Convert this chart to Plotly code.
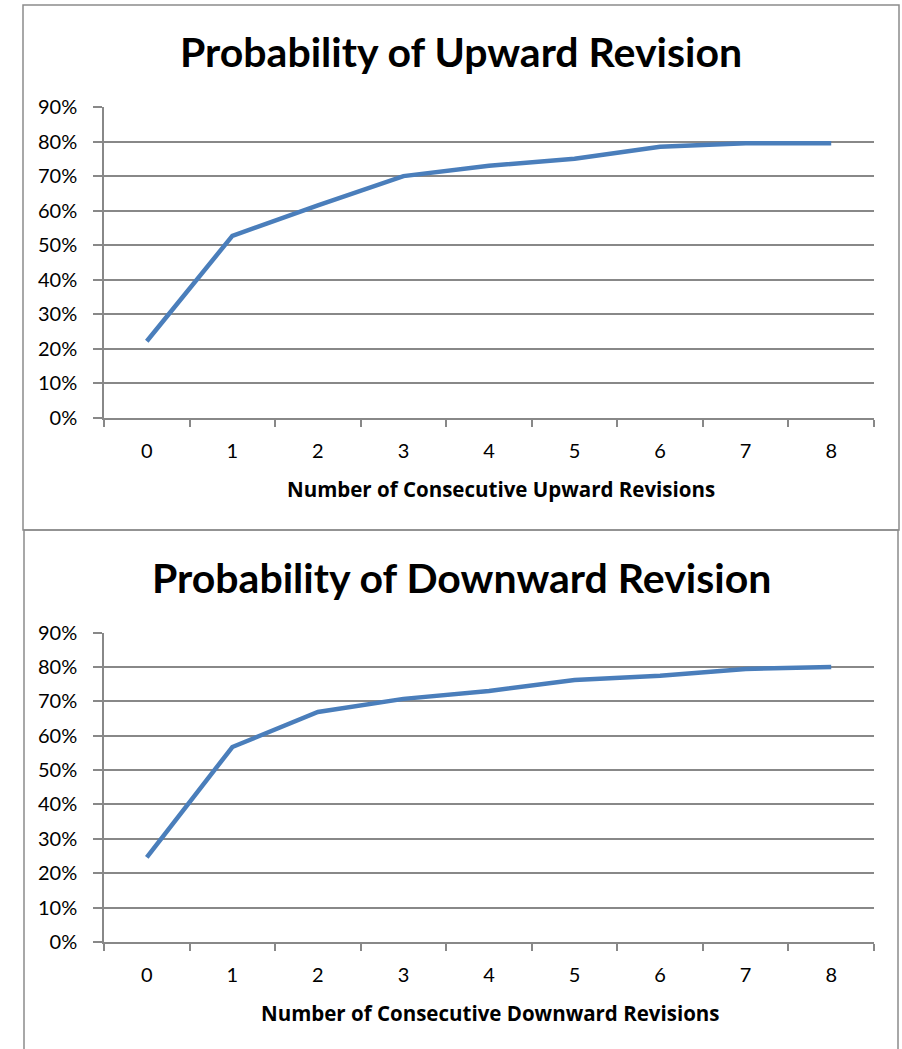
import plotly.graph_objects as go

categories = ["0", "1", "2", "3", "4", "5", "6", "7", "8"]
upward_prob = [0.222, 0.527, 0.615, 0.700, 0.730, 0.750, 0.785, 0.795, 0.795]
downward_prob = [0.246, 0.567, 0.669, 0.707, 0.730, 0.762, 0.774, 0.794, 0.800]
y_ticks = [0, 0.1, 0.2, 0.3, 0.4, 0.5, 0.6, 0.7, 0.8, 0.9]
y_tick_labels = ["0%", "10%", "20%", "30%", "40%", "50%", "60%", "70%", "80%", "90%"]

W, H = 902, 1049
LINE = "#4A7EBB"
GRID = "#888888"
FONT = "Lato, Carlito, Calibri, sans-serif"
FONT2 = "'Open Sans', Carlito, Calibri, sans-serif"

def py(px):
    return 1 - px / H

def px_(p):
    return p / W

fig = go.Figure()
fig.add_trace(go.Scatter(x=categories, y=upward_prob, mode="lines",
                         line=dict(color=LINE, width=4.5), xaxis="x", yaxis="y",
                         showlegend=False, hoverinfo="x+y"))
fig.add_trace(go.Scatter(x=categories, y=downward_prob, mode="lines",
                         line=dict(color=LINE, width=4.5), xaxis="x2", yaxis="y2",
                         showlegend=False, hoverinfo="x+y"))

xdom = [px_(104), px_(874)]
common_x = dict(type="category", range=[-0.5, 8.5], tickson="boundaries",
                ticks="outside", ticklen=7, tickcolor=GRID, tickwidth=1.5,
                showline=True, linecolor=GRID, linewidth=1.5, showgrid=False,
                tickfont=dict(family=FONT, size=20, color="#000000"),
                ticklabelstandoff=14, automargin=False,
                zeroline=False, fixedrange=True)
common_y = dict(range=[0, 0.9], tickvals=y_ticks, ticktext=y_tick_labels,
                ticks="outside", ticklen=9, tickcolor=GRID, tickwidth=1.5,
                showline=True, linecolor=GRID, linewidth=1.5,
                showgrid=True, gridcolor=GRID, gridwidth=1.5,
                tickfont=dict(family=FONT, size=20, color="#000000"),
                ticklabelstandoff=12, automargin=False,
                zeroline=False, fixedrange=True)

fig.update_layout(
    width=W, height=H,
    margin=dict(l=0, r=0, t=0, b=0, pad=0),
    paper_bgcolor="white", plot_bgcolor="white",
    xaxis=dict(domain=xdom, anchor="y", **common_x),
    yaxis=dict(domain=[py(418), py(107)], anchor="x", **common_y),
    xaxis2=dict(domain=xdom, anchor="y2", **common_x),
    yaxis2=dict(domain=[py(942), py(632.5)], anchor="x2", **common_y),
)

# chart frames
fig.add_shape(type="rect", xref="paper", yref="paper",
              x0=px_(23), x1=px_(899), y0=py(530), y1=py(5),
              line=dict(color="#8C8C8C", width=1.5), layer="below")
fig.add_shape(type="rect", xref="paper", yref="paper",
              x0=px_(24), x1=px_(898), y0=py(1070), y1=py(530),
              line=dict(color="#8C8C8C", width=1.5), layer="below")

def text(x, y, s, size, family):
    fig.add_annotation(x=px_(x), y=py(y), xref="paper", yref="paper",
                       text=f"<b>{s}</b>", showarrow=False,
                       xanchor="center", yanchor="middle",
                       font=dict(family=family, size=size, color="#000000"))

text(461, 52, "Probability of Upward Revision", 41, FONT)
text(501, 489, "Number of Consecutive Upward Revisions", 20.5, FONT2)
text(461, 577, "Probability of Downward Revision", 41, FONT)
text(490, 1013, "Number of Consecutive Downward Revisions", 20.5, FONT2)

fig.write_html("out.html", config={"displayModeBar": False},
               post_script="document.body.style.margin='0';")
